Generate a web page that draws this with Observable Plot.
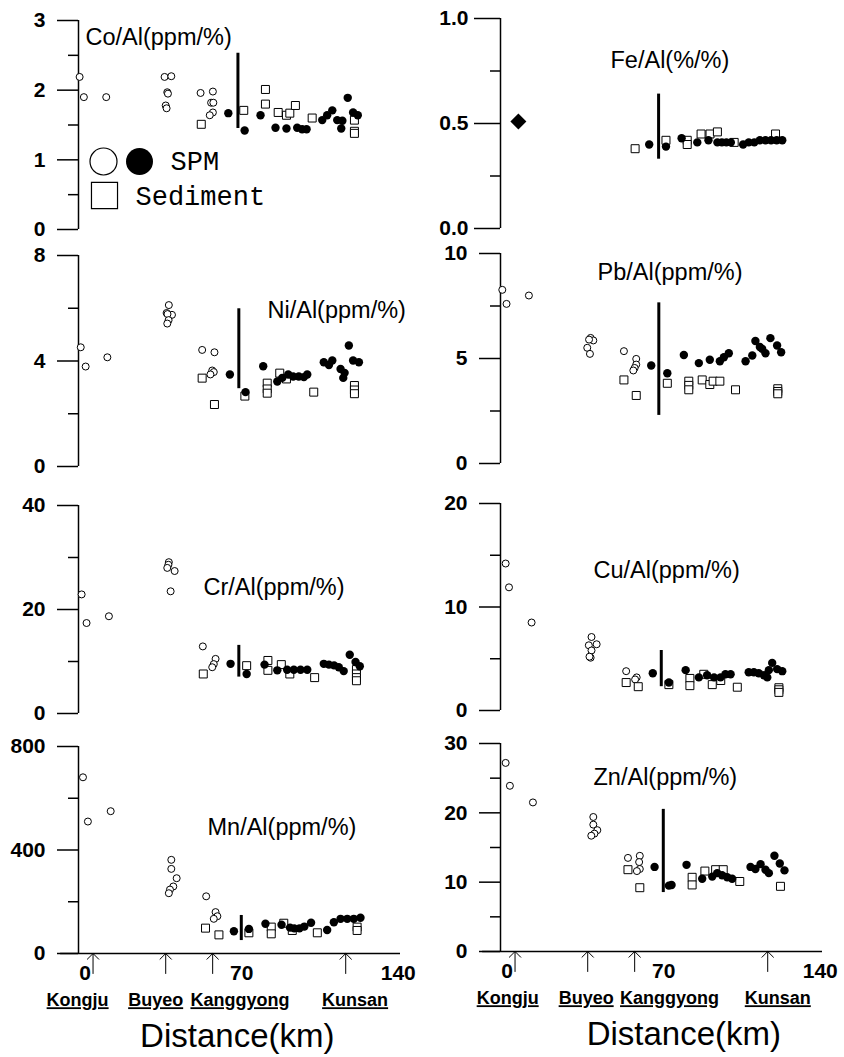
<!DOCTYPE html>
<html><head><meta charset="utf-8">
<script src="https://cdn.jsdelivr.net/npm/d3@7"></script>
<script src="https://cdn.jsdelivr.net/npm/@observablehq/plot@0.6"></script>
<style>
body{margin:0;background:#fff;}
#chart{display:flex;width:844px;height:1057px;background:#fff;font-family:"Liberation Sans",Arial,sans-serif;}
#chart .col{display:flex;flex-direction:column;}
</style></head><body><div id="chart"><div class="col" id="col0" style="width:420px"></div><div class="col" id="col1" style="width:424px"></div></div>
<script>
// ---- data: [distance km, ratio] ----
const coOpen = [[-2.5,2.19],[-0.6,1.90],[9.4,1.90],[35.5,2.19],[38.5,2.20],[36.7,1.97],[37.0,1.95],[36.0,1.78],[36.4,1.74],[51.6,1.96],[57.1,1.98],[56.3,1.82],[57.3,1.82],[57.1,1.68],[55.7,1.64]];
const coSed = [[51.9,1.51],[70.9,1.71],[80.6,2.01],[80.6,1.80],[86.3,1.68],[90.0,1.64],[91.5,1.67],[94.0,1.78],[101.5,1.60],[120.4,1.57],[120.4,1.41],[120.4,1.38]];
const coFilled = [[64.0,1.67],[71.3,1.42],[78.4,1.64],[85.1,1.46],[90.0,1.45],[94.8,1.46],[97.0,1.44],[99.0,1.44],[106.0,1.57],[108.2,1.64],[110.5,1.71],[112.7,1.57],[114.5,1.45],[115.0,1.56],[117.4,1.89],[119.8,1.68],[121.9,1.64]];
const coDivider = [[68.3,1.45,2.53]];

const niOpen = [[-2,4.52],[0.2,3.79],[9.9,4.14],[37.4,6.12],[36.4,5.82],[38.8,5.75],[36.8,5.78],[37.3,5.55],[36.7,5.42],[52.3,4.42],[57.8,4.33],[56.8,3.64],[57.5,3.58],[56.0,3.49]];
const niSed = [[52.3,3.35],[57.8,2.35],[71.4,2.67],[81.4,3.16],[81.4,2.94],[81.4,2.78],[87.0,3.54],[90.0,3.32],[102.2,2.82],[120.4,3.07],[120.4,2.90],[120.4,2.76]];
const niFilled = [[64.7,3.49],[71.7,2.82],[79.6,3.80],[85.9,3.22],[88.1,3.36],[90.8,3.49],[93.0,3.41],[95.5,3.41],[97.8,3.39],[99.3,3.49],[106.7,3.95],[109.0,3.85],[110.5,4.02],[114.2,3.70],[115.4,3.36],[116.0,3.55],[117.9,4.59],[119.8,4.02],[122.4,3.95]];
const niDivider = [[68.7,2.95,5.98]];

const crOpen = [[-1.6,22.9],[0.6,17.4],[10.6,18.7],[37.4,29.1],[37.2,28.6],[36.7,28.0],[40.0,27.4],[38.2,23.5],[52.6,12.9],[58.3,10.5],[57.5,9.5],[56.8,8.9]];
const crSed = [[52.8,7.6],[72.2,9.2],[81.7,10.2],[81.7,8.3],[87.7,9.4],[91.5,7.6],[102.6,6.9],[121.3,8.45],[121.3,7.6],[121.3,6.9],[121.3,6.3]];
const crFilled = [[65.0,9.55],[72.2,7.6],[80.2,9.4],[85.9,8.3],[90.3,8.4],[93.3,8.4],[96.3,8.4],[99.3,8.4],[106.7,9.55],[109.0,9.4],[111.3,9.25],[113.4,8.9],[115.6,8.15],[118.3,11.3],[120.9,9.9],[122.8,9.1]];
const crDivider = [[68.7,7.0,13.1]];

const mnOpen = [[-1,681],[1.2,510],[11.4,550],[38.5,362],[38.5,327],[40.9,291],[39.4,259],[37.9,247],[37.4,233],[54.1,221],[58.3,160],[59.1,144],[57.5,134]];
const mnSed = [[53.8,98],[59.8,72],[73.2,80],[83.2,102],[83.2,76],[88.8,117],[92.6,89],[103.8,80],[121.6,102],[121.6,89]];
const mnFilled = [[66.5,86],[73.2,95],[80.6,115],[87.8,111],[91.6,100],[93.5,97],[95.8,97],[98.0,104],[101.0,119],[108.2,91],[111.2,121],[114.2,134],[117.2,134],[120.1,134],[123.1,138]];
const mnDivider = [[69.8,50,147]];

const feDiamond = [[5,0.51]];
const feSed = [[57.2,0.38],[71,0.42],[80.5,0.42],[80.5,0.40],[86.7,0.45],[90.7,0.45],[94,0.46],[101.5,0.41],[120,0.45]];
const feFilled = [[63.5,0.40],[71,0.39],[78,0.43],[85,0.41],[90,0.42],[94,0.41],[96,0.41],[98,0.41],[100,0.41],[105.5,0.40],[108,0.41],[110.5,0.41],[113,0.42],[115.5,0.42],[118,0.42],[120.5,0.42],[123,0.42]];
const feDivider = [[67.7,0.33,0.64]];

const pbOpen = [[-2.2,8.27],[-0.3,7.6],[9.7,8.0],[37.3,5.98],[38.5,5.86],[36.6,5.9],[35.8,5.51],[37.0,5.22],[52.2,5.35],[57.7,4.98],[57.7,4.71],[57.0,4.55],[56.4,4.43]];
const pbSed = [[52.2,3.98],[57.7,3.24],[71.6,3.82],[81.2,3.92],[81.2,3.72],[81.2,3.51],[87.2,3.98],[90.6,3.76],[92.1,3.92],[95.1,3.92],[102.1,3.51],[121,3.56],[121,3.43],[121,3.32]];
const pbFilled = [[64.4,4.67],[71.6,4.30],[79.0,5.17],[85.7,4.78],[90.6,4.94],[95.1,4.87],[96.9,5.06],[99.1,5.25],[106.6,4.87],[109.6,5.14],[111.0,5.83],[113.0,5.55],[114.0,5.46],[115.5,5.25],[117.7,5.97],[120.7,5.62],[122.5,5.3]];
const pbDivider = [[67.8,2.29,7.65]];

const cuOpen = [[-0.7,14.2],[0.8,11.9],[10.9,8.5],[37.7,7.1],[36.5,6.3],[40.0,6.4],[37.7,5.8],[37.3,5.1],[36.8,5.2],[53.2,3.8],[57.9,3.2],[57.2,3.0]];
const cuSed = [[53.2,2.7],[58.6,2.3],[72.3,2.5],[81.7,3.1],[81.7,2.4],[87.9,3.5],[91.7,2.5],[95.5,2.9],[102.9,2.25],[121.5,2.2],[121.5,2.0],[121.5,1.75]];
const cuFilled = [[65.1,3.6],[72.3,2.7],[79.8,3.9],[85.7,3.2],[89.4,3.4],[92.5,3.2],[95.4,3.2],[97.6,3.5],[99.9,3.5],[108,3.7],[110.3,3.7],[112.5,3.6],[114.8,3.4],[116.3,3.2],[117,3.9],[118.5,4.6],[120.7,4.0],[123,3.8]];
const cuDivider = [[68.9,2.3,5.8]];

const znOpen = [[-0.7,27.2],[1.2,23.9],[11.5,21.5],[38.5,19.4],[38.5,18.3],[40.3,17.5],[39.0,17.0],[37.6,16.7],[54.0,13.5],[59.3,13.8],[59.0,12.9],[59.3,11.9],[58.0,11.6]];
const znSed = [[54.0,11.8],[59.3,9.2],[82.7,10.7],[82.7,9.6],[88.4,11.6],[93.2,11.8],[96.6,11.8],[104.0,10.1],[122.2,9.4]];
const znFilled = [[65.9,12.2],[72.3,9.5],[73.5,9.6],[80.2,12.5],[87.2,10.5],[91.7,10.8],[93.9,11.3],[96.1,11.0],[98.4,10.7],[100.6,10.5],[108.8,12.2],[111.0,11.9],[113.3,12.6],[115.5,11.8],[117.0,11.3],[119.5,13.8],[121.9,12.7],[124.0,11.7]];
const znDivider = [[69.8,8.5,20.5]];

const towns = ["Kongju","Buyeo","Kanggyong","Kunsan"];
const townKm = [3.5,36,57,116.5];
const xTicks = [0,70,140];
const legendLabels = ["SPM","Sediment"];

// ---- layout ----
const axisKm = -3;            // where the y-axis line sits on the distance scale
const pxPerKm = 322 / 144;
const extraPx = 30;           // frame extends left of the y-axis so the ticks sit inside it
const xDomain = [axisKm - extraPx / pxPerKm, 141];
const cols = [
  {width:420, ml:78 - extraPx, mr:20, labelKm:[-3.4,31.5,69.2,120.7], distKm:68},
  {width:424, ml:80 - extraPx, mr:22, labelKm:[0.2,35.3,72.6,121], distKm:79}
];
const rows = [[0,241],[241,485],[485,730],[730,1057]];
const panels = [
  {col:0, row:0, top:20, bottom:229, max:3, major:[0,1,2,3], minor:[0.5,1.5,2.5], title:"Co/Al(ppm/%)", tdx:7, tdy:17, open:coOpen, sed:coSed, filled:coFilled, div:coDivider, legend:true},
  {col:0, row:1, top:255, bottom:466, max:8, major:[0,4,8], minor:[2,6], title:"Ni/Al(ppm/%)", tdx:189, tdy:55, open:niOpen, sed:niSed, filled:niFilled, div:niDivider},
  {col:0, row:2, top:505, bottom:713, max:40, major:[0,20,40], minor:[10,30], title:"Cr/Al(ppm/%)", tdx:125, tdy:82, open:crOpen, sed:crSed, filled:crFilled, div:crDivider},
  {col:0, row:3, top:746, bottom:953, max:800, major:[0,400,800], minor:[200,600], title:"Mn/Al(ppm/%)", tdx:129, tdy:81, open:mnOpen, sed:mnSed, filled:mnFilled, div:mnDivider, xaxis:true},
  {col:1, row:0, top:18, bottom:228, max:1, major:[0,0.5,1], minor:[0.25,0.75], fmt:d3.format(".1f"), tickSize:26, pad:6, title:"Fe/Al(%/%)", tdx:110, tdy:42, open:[], diamond:feDiamond, sed:feSed, filled:feFilled, div:feDivider},
  {col:1, row:1, top:253, bottom:463, max:10, major:[0,5,10], minor:[2.5,7.5], title:"Pb/Al(ppm/%)", tdx:97, tdy:19, open:pbOpen, sed:pbSed, filled:pbFilled, div:pbDivider},
  {col:1, row:2, top:503, bottom:710, max:20, major:[0,10,20], minor:[5,15], title:"Cu/Al(ppm/%)", tdx:93, tdy:67, open:cuOpen, sed:cuSed, filled:cuFilled, div:cuDivider},
  {col:1, row:3, top:743, bottom:951, max:30, major:[0,10,20,30], minor:[5,15,25], title:"Zn/Al(ppm/%)", tdx:93, tdy:34, open:znOpen, sed:znSed, filled:znFilled, div:znDivider, xaxis:true}
];

const X = d => d[0], Y = d => d[1];

for (const p of panels) {
  const c = cols[p.col];
  const [rowTop, rowBottom] = rows[p.row];
  const tickSize = p.tickSize ?? 21;
  const labelPad = Math.max(0, tickSize + (p.pad ?? 12) - extraPx);
  const marks = [
    Plot.ruleX([axisKm], {y1: 0, y2: p.max, stroke: "black", strokeWidth: 1.5}),
    Plot.ruleY(p.major, {y: d => d, x1: axisKm - tickSize / pxPerKm, x2: axisKm, stroke: "black", strokeWidth: 1.5}),
    Plot.ruleY(p.minor, {y: d => d, x1: axisKm - 10 / pxPerKm, x2: axisKm, stroke: "black", strokeWidth: 1.5}),
    Plot.axisY({ticks: p.major, tickSize: 0, tickPadding: labelPad, tickFormat: p.fmt ?? (d => String(d)), fontSize: 21, fontWeight: "bold", label: null}),
    Plot.text([p.title], {text: d => d, frameAnchor: "top-left", dx: p.tdx + extraPx, dy: p.tdy, textAnchor: "start", lineAnchor: "middle", fontSize: 23.5}),
    Plot.ruleX(p.div, {x: d => d[0], y1: d => d[1], y2: d => d[2], stroke: "black", strokeWidth: 3}),
    Plot.dot(p.open, {x: X, y: Y, r: 3.5, stroke: "black", fill: "white", strokeWidth: 1}),
    Plot.dot(p.sed, {x: X, y: Y, symbol: "square", r: 4.5, stroke: "black", fill: "white", strokeWidth: 1}),
    Plot.dot(p.filled, {x: X, y: Y, r: 4.2, fill: "black"})
  ];
  if (p.diamond) marks.push(Plot.dot(p.diamond, {x: X, y: Y, symbol: "diamond2", r: 7.2, fill: "black"}));
  if (p.legend) {
    marks.push(
      Plot.dot([0], {frameAnchor: "top-left", dx: 25 + extraPx, dy: 141, r: 13.5, stroke: "black", fill: "white", strokeWidth: 1.2}),
      Plot.dot([0], {frameAnchor: "top-left", dx: 61 + extraPx, dy: 141, r: 13.5, fill: "black"}),
      Plot.dot([0], {frameAnchor: "top-left", dx: 26 + extraPx, dy: 175, symbol: "square", r: 14.7, stroke: "black", fill: "white", strokeWidth: 1.2}),
      Plot.text([legendLabels[0]], {text: d => d, frameAnchor: "top-left", dx: 92 + extraPx, dy: 141, textAnchor: "start", lineAnchor: "middle", fontFamily: "Liberation Mono, monospace", fontSize: 27}),
      Plot.text([legendLabels[1]], {text: d => d, frameAnchor: "top-left", dx: 57 + extraPx, dy: 176, textAnchor: "start", lineAnchor: "middle", fontFamily: "Liberation Mono, monospace", fontSize: 27})
    );
  }
  if (p.xaxis) {
    marks.push(
      Plot.ruleY([0], {x1: -11, x2: 141, stroke: "black", strokeWidth: 1.5}),
      Plot.axisX({ticks: xTicks, tickSize: 0, tickPadding: 12, fontSize: 21, fontWeight: "bold", label: null}),
      Plot.vector(townKm, {x: d => d, y: 0, length: 20, rotate: 0, anchor: "end", r: 5, stroke: "black", strokeWidth: 1}),
      Plot.text(towns, {x: (d, i) => c.labelKm[i], text: d => d, frameAnchor: "bottom", dy: 47, lineAnchor: "middle", fontSize: 18, fontWeight: "bold"}),
      Plot.text(["Distance(km)"], {x: c.distKm, text: d => d, frameAnchor: "bottom", dy: 83, lineAnchor: "middle", fontSize: 33})
    );
  }
  const svg = Plot.plot({
    width: c.width,
    height: rowBottom - rowTop,
    marginLeft: c.ml,
    marginRight: c.mr,
    marginTop: p.top - rowTop,
    marginBottom: rowBottom - p.bottom,
    x: p.xaxis ? {domain: xDomain} : {domain: xDomain, axis: null},
    y: {domain: [0, p.max]},
    style: "background: transparent; font-family: 'Liberation Sans', Arial, sans-serif;",
    marks
  });
  d3.select(svg).selectAll("text").filter(function() { return towns.includes(this.textContent); })
    .attr("text-decoration", "underline");
  document.getElementById("col" + p.col).appendChild(svg);
}
</script></body></html>
